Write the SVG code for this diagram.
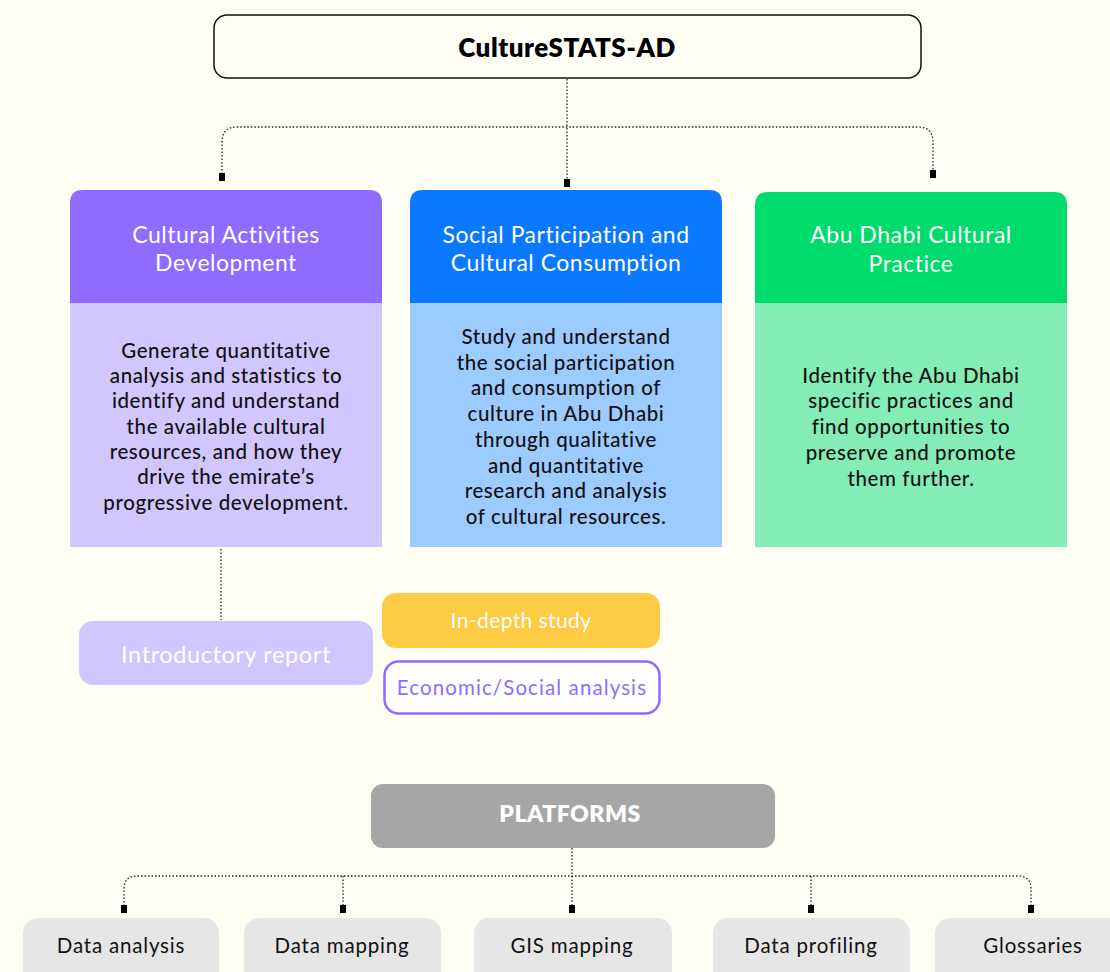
<svg xmlns="http://www.w3.org/2000/svg" width="1110" height="972" viewBox="0 0 1110 972">
<style>
text{font-family:"Lato","Noto Sans",sans-serif;text-anchor:middle}
.hd{fill:#ffffff;font-size:23px;letter-spacing:0.5px}
.bd{fill:#111111;font-size:20.5px;font-weight:500;letter-spacing:0.6px}
.cn{fill:none;stroke:#222;stroke-width:1.3;stroke-dasharray:1.5 2}
.pl{fill:#e6e6e6}
.pt{fill:#111;font-size:20.5px;letter-spacing:0.8px}
.mk{fill:#000}
</style>
<rect width="1110" height="972" fill="#fefef5"/>
<g id="connectors">
<path class="cn" d="M567 79 V180"/>
<path class="cn" d="M222 174 V142 Q222 127 237 127 H918 Q933 127 933 142 V171"/>
<rect class="mk" x="564" y="179" width="6" height="8"/>
<rect class="mk" x="219" y="173" width="6" height="8"/>
<rect class="mk" x="930" y="170" width="6" height="8"/>
<path class="cn" d="M221 549 V620"/>
<path class="cn" d="M572 848 V906"/>
<path class="cn" d="M124 906 V889 Q124 876 137 876 H1018 Q1031 876 1031 889 V906"/>
<path class="cn" d="M343 876 V906 M811 876 V906"/>
<rect class="mk" x="121" y="905" width="6" height="8"/>
<rect class="mk" x="340" y="905" width="6" height="8"/>
<rect class="mk" x="569" y="905" width="6" height="8"/>
<rect class="mk" x="808" y="905" width="6" height="8"/>
<rect class="mk" x="1028" y="905" width="6" height="8"/>
</g>
<g id="root">
<rect x="214" y="15" width="707" height="63" rx="13" fill="#fefef5" stroke="#111" stroke-width="1.5"/>
<text x="567" y="57" style="font-size:26px;font-weight:800;fill:#000;letter-spacing:0.5px">CultureSTATS-AD</text>
</g>
<g id="col1">
<path d="M70 303 V203 Q70 190 83 190 H369 Q382 190 382 203 V303 Z" fill="#8f6bff"/>
<rect x="70" y="303" width="312" height="244" fill="#d2c6ff"/>
<text class="hd" x="226" y="243">Cultural Activities</text>
<text class="hd" x="226" y="271">Development</text>
<text class="bd" x="226" y="358">Generate quantitative</text>
<text class="bd" x="226" y="383">analysis and statistics to</text>
<text class="bd" x="226" y="408">identify and understand</text>
<text class="bd" x="226" y="434">the available cultural</text>
<text class="bd" x="226" y="459">resources, and how they</text>
<text class="bd" x="226" y="484">drive the emirate’s</text>
<text class="bd" x="226" y="510">progressive development.</text>
</g>
<g id="col2">
<path d="M410 303 V203 Q410 190 423 190 H709 Q722 190 722 203 V303 Z" fill="#0a78ff"/>
<rect x="410" y="303" width="312" height="244" fill="#9ccbff"/>
<text class="hd" x="566" y="243">Social Participation and</text>
<text class="hd" x="566" y="271">Cultural Consumption</text>
<text class="bd" x="566" y="344">Study and understand</text>
<text class="bd" x="566" y="370">the social participation</text>
<text class="bd" x="566" y="395">and consumption of</text>
<text class="bd" x="566" y="421">culture in Abu Dhabi</text>
<text class="bd" x="566" y="447">through qualitative</text>
<text class="bd" x="566" y="473">and quantitative</text>
<text class="bd" x="566" y="498">research and analysis</text>
<text class="bd" x="566" y="524">of cultural resources.</text>
</g>
<g id="col3">
<path d="M755 303 V205 Q755 192 768 192 H1054 Q1067 192 1067 205 V303 Z" fill="#00dc6c"/>
<rect x="755" y="303" width="312" height="244" fill="#84edb6"/>
<text class="hd" x="911" y="243">Abu Dhabi Cultural</text>
<text class="hd" x="911" y="272">Practice</text>
<text class="bd" x="911" y="383">Identify the Abu Dhabi</text>
<text class="bd" x="911" y="408">specific practices and</text>
<text class="bd" x="911" y="434">find opportunities to</text>
<text class="bd" x="911" y="460">preserve and promote</text>
<text class="bd" x="911" y="486">them further.</text>
</g>
<g id="intro">
<rect x="79" y="621" width="294" height="64" rx="14" fill="#d2c6ff"/>
<text x="226" y="663" style="fill:#fff;font-size:23.5px;letter-spacing:0.6px">Introductory report</text>
</g>
<g id="indepth">
<rect x="382" y="593" width="278" height="55" rx="14" fill="#ffcb44"/>
<text x="521" y="628" style="fill:#fff;font-size:21px;letter-spacing:0.4px">In-depth study</text>
</g>
<g id="econ">
<rect x="384.5" y="661.5" width="275" height="52" rx="14" fill="#fff" stroke="#8f6bff" stroke-width="2.5"/>
<text x="522" y="695" style="fill:#8f6bff;font-size:20.5px;letter-spacing:1.1px">Economic/Social analysis</text>
</g>
<g id="platforms">
<rect x="371" y="784" width="404" height="64" rx="12" fill="#a6a6a6"/>
<text x="570" y="822" style="fill:#fff;font-size:23px;font-weight:800;letter-spacing:0.5px">PLATFORMS</text>
</g>
<g id="p1"><rect class="pl" x="23" y="918" width="196" height="70" rx="15"/><text class="pt" x="121" y="953">Data analysis</text></g>
<g id="p2"><rect class="pl" x="244" y="918" width="197" height="70" rx="15"/><text class="pt" x="342" y="953">Data mapping</text></g>
<g id="p3"><rect class="pl" x="474" y="918" width="198" height="70" rx="15"/><text class="pt" x="572" y="953">GIS mapping</text></g>
<g id="p4"><rect class="pl" x="713" y="918" width="197" height="70" rx="15"/><text class="pt" x="811" y="953">Data profiling</text></g>
<g id="p5"><rect class="pl" x="935" y="918" width="200" height="70" rx="15"/><text class="pt" x="1033" y="953">Glossaries</text></g>
</svg>
